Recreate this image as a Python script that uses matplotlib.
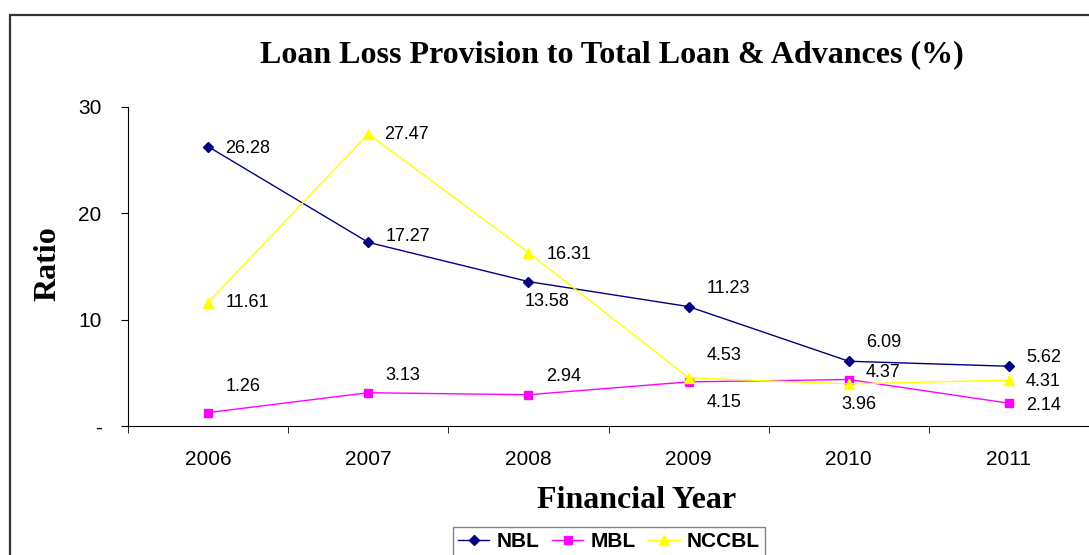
import matplotlib.pyplot as plt
import numpy as np
from matplotlib.patches import Rectangle

# data
years = ["2006", "2007", "2008", "2009", "2010", "2011"]
nbl = [26.28, 17.27, 13.58, 11.23, 6.09, 5.62]
mbl = [1.26, 3.13, 2.94, 4.15, 4.37, 2.14]
nccbl = [11.61, 27.47, 16.31, 4.53, 3.96, 4.31]

# label offsets in pixels from the marker (left edge of the text, excel style)
off_nbl = [(17, -2), (17, 6), (-4, -20), (18, 18), (17, 19), (17, 9)]
off_mbl = [(18, 26), (17, 17), (18, 18), (18, -21), (17, 7), (17, -2)]
off_nccbl = [(18, 0), (16, -1), (18, -2), (18, 22), (-7, -21), (17, -1)]

W, H = 1089, 555
fig = plt.figure(figsize=(W / 100, H / 100), dpi=100)

# outer chart frame (only left and top edges are visible)
fig.patches.append(Rectangle((10 / W, -0.1), 1.2, 1 - 15 / H + 0.1,
                             transform=fig.transFigure, fill=False,
                             edgecolor="#333333", linewidth=1.6))

ax = fig.add_axes([128 / W, 1 - 426 / H, 1 - 128 / W, (426 - 107) / H])
X = np.arange(len(years))

series = [
    ("NBL", nbl, "#000080", "D", 5, off_nbl),
    ("MBL", mbl, "#FF00FF", "s", 6, off_mbl),
    ("NCCBL", nccbl, "#FFFF00", "^", 7, off_nccbl),
]
for name, vals, col, mk, ms, offs in series:
    ax.plot(X, vals, color=col, marker=mk, markersize=ms, linewidth=1.0, label=name)
    for x, v, (dx, dy) in zip(X, vals, offs):
        ax.annotate("%.2f" % v, (x, v), xytext=(dx * 0.72, dy * 0.72),
                    textcoords="offset points", ha="left", va="center",
                    fontsize=13, family="Liberation Sans")

ax.set_xlim(-0.5, 5.47)
ax.set_ylim(0, 30)
ax.set_yticks([0, 10, 20, 30])
ax.set_yticklabels(["-", "10", "20", "30"], family="Liberation Sans", fontsize=15)
ax.set_xticks(X)
ax.set_xticklabels(years, family="Liberation Sans", fontsize=15)
ax.set_xticks(np.arange(-0.5, 6, 1), minor=True)
ax.tick_params(axis="x", which="major", length=0, pad=17)
ax.tick_params(axis="x", which="minor", length=5, direction="out")
ax.tick_params(axis="y", length=5, direction="out", pad=14)

ax.spines["top"].set_visible(False)
ax.spines["right"].set_visible(False)

fig.text(612 / W, 1 - 55 / H, "Loan Loss Provision to Total Loan & Advances (%)",
         ha="center", va="center", family="Liberation Serif", fontweight="bold", fontsize=23)
fig.text(637 / W, 1 - 500 / H, "Financial Year", ha="center", va="center",
         family="Liberation Serif", fontweight="bold", fontsize=23)
fig.text(48 / W, 1 - 264 / H, "Ratio", ha="center", va="center", rotation=90,
         family="Liberation Serif", fontweight="bold", fontsize=23)

leg = fig.legend(loc="upper center", bbox_to_anchor=(609 / W, 1 - 527 / H), ncol=3,
                 frameon=True, fancybox=False, edgecolor="#666666",
                 prop={"family": "Liberation Sans", "weight": "bold", "size": 15},
                 handlelength=1.5, columnspacing=0.6, handletextpad=0.35,
                 borderpad=0.25, borderaxespad=0)
leg.get_frame().set_linewidth(1.0)

plt.savefig("out.png", dpi=100)
